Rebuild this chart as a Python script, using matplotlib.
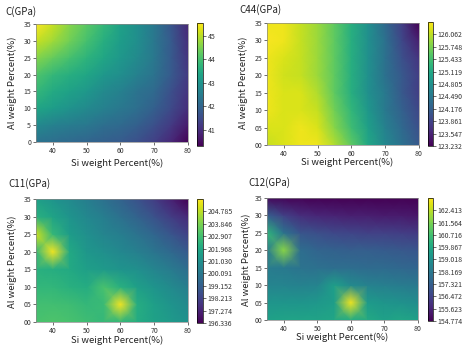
import numpy as np
import matplotlib
matplotlib.use("Agg")
import matplotlib.pyplot as plt

plt.rcParams['font.family'] = ['Noto Sans CJK KR', 'DejaVu Sans']

# grid (Si weight %, Al weight %)
si_pct = [35, 40, 45, 50, 55, 60, 65, 70, 75, 80]
al_pct = [0, 5, 10, 15, 20, 25, 30, 35]

# rows: Al = 0 ... 35, columns: Si = 35 ... 80
c_vals = [
    [42.3, 42.2, 42.1, 42.0, 41.9, 41.8, 41.6, 41.3, 40.9, 40.35],
    [42.8, 42.6, 42.5, 42.4, 42.2, 42.1, 41.9, 41.6, 41.2, 40.7],
    [43.4, 43.2, 43.0, 42.8, 42.6, 42.4, 42.2, 41.9, 41.5, 41.0],
    [43.8, 43.5, 43.3, 43.1, 42.8, 42.6, 42.3, 42.1, 41.6, 41.1],
    [44.1, 43.8, 43.6, 43.4, 43.1, 42.9, 42.6, 42.3, 41.8, 41.2],
    [44.6, 44.3, 44.0, 43.7, 43.4, 43.1, 42.8, 42.4, 41.8, 41.1],
    [45.1, 44.8, 44.4, 44.0, 43.6, 43.2, 42.9, 42.4, 41.8, 41.0],
    [45.5, 45.1, 44.6, 44.2, 43.8, 43.3, 42.9, 42.4, 41.7, 40.9],
]
c44_vals = [
    [126.1, 126.2, 126.3, 126.3, 126.0, 125.6, 125.1, 124.7, 124.4, 124.1],
    [126.2, 126.2, 126.3, 126.2, 125.8, 125.4, 125.0, 124.6, 124.3, 124.0],
    [126.3, 126.2, 126.2, 126.1, 125.7, 125.3, 124.9, 124.5, 124.2, 123.9],
    [126.3, 126.2, 126.2, 126.0, 125.6, 125.2, 124.8, 124.5, 124.1, 123.8],
    [126.3, 126.15, 126.1, 125.9, 125.6, 125.2, 124.8, 124.4, 124.1, 123.8],
    [126.3, 126.2, 126.1, 125.9, 125.6, 125.2, 124.8, 124.4, 124.0, 123.7],
    [126.35, 126.3, 126.1, 125.9, 125.6, 125.2, 124.8, 124.4, 123.9, 123.5],
    [126.3, 126.3, 126.1, 125.9, 125.6, 125.2, 124.8, 124.3, 123.8, 123.232],
]
c11_vals = [
    [203.0, 203.1, 203.0, 202.8, 202.6, 202.5, 202.1, 201.7, 201.4, 201.1],
    [202.9, 202.9, 202.8, 202.6, 202.7, 205.6, 202.2, 201.6, 201.2, 200.8],
    [202.5, 202.5, 202.3, 202.1, 203.0, 202.3, 201.6, 201.2, 200.8, 200.3],
    [202.3, 202.2, 202.0, 201.6, 201.4, 201.2, 201.0, 200.6, 200.2, 199.7],
    [202.6, 205.6, 202.0, 201.3, 201.0, 200.7, 200.4, 200.0, 199.5, 199.0],
    [205.0, 202.6, 201.5, 201.0, 200.6, 200.3, 199.9, 199.4, 198.8, 198.2],
    [202.3, 201.8, 201.2, 200.7, 200.3, 199.8, 199.3, 198.7, 198.0, 197.4],
    [201.6, 201.2, 200.8, 200.3, 199.8, 199.3, 198.7, 198.0, 197.2, 196.336],
]
c12_vals = [
    [159.6, 159.7, 159.7, 159.7, 159.8, 160.0, 159.9, 159.6, 159.8, 159.6],
    [159.2, 159.2, 159.2, 159.3, 159.5, 163.1, 159.4, 159.2, 159.1, 158.9],
    [158.6, 158.6, 158.5, 158.6, 159.5, 158.8, 158.5, 158.4, 158.3, 158.2],
    [158.3, 158.2, 158.0, 157.9, 157.8, 157.8, 157.7, 157.7, 157.6, 157.5],
    [158.3, 161.8, 157.8, 157.5, 157.4, 157.3, 157.3, 157.2, 157.1, 157.0],
    [160.3, 158.0, 157.0, 156.8, 156.6, 156.5, 156.4, 156.4, 156.3, 156.2],
    [157.3, 156.4, 155.9, 155.7, 155.6, 155.5, 155.5, 155.4, 155.4, 155.3],
    [155.0, 154.9, 154.85, 154.8, 154.8, 154.8, 154.8, 154.8, 154.8, 154.774],
]

c_ticks = [41, 42, 43, 44, 45]
c44_ticks = [123.232, 123.547, 123.861, 124.176, 124.490, 124.805, 125.119, 125.433, 125.748, 126.062]
c11_ticks = [196.336, 197.274, 198.213, 199.152, 200.091, 201.030, 201.968, 202.907, 203.846, 204.785]
c12_ticks = [154.774, 155.623, 156.472, 157.321, 158.169, 159.018, 159.867, 160.716, 161.564, 162.413]

W, H = 472, 356


def px_rect(l, t, r, b):
    return [l / W, 1 - b / H, (r - l) / W, (b - t) / H]


def panel(fig, title, vals, ticks, vmin, vmax, ax_box, cb_box, title_xy,
          xlab_xy, ylab_xy, ytick_fmt, cb_fmt):
    ax = fig.add_axes(px_rect(*ax_box))
    X, Y = np.meshgrid(si_pct, al_pct)
    mesh = ax.pcolormesh(X, Y, np.array(vals), shading='gouraud', cmap='viridis',
                         vmin=vmin, vmax=vmax)
    ax.set_xlim(35, 80)
    ax.set_ylim(0, 35)
    ax.set_xticks([40, 50, 60, 70, 80])
    yt = [0, 5, 10, 15, 20, 25, 30, 35]
    ax.set_yticks(yt)
    ax.set_yticklabels([ytick_fmt.format(v) for v in yt])
    ax.tick_params(labelsize=5, length=2, width=0.5, pad=1.5, colors='#333333')
    for s in ax.spines.values():
        s.set_linewidth(0.5)
        s.set_color('#888888')

    cax = fig.add_axes(px_rect(*cb_box))
    cb = fig.colorbar(mesh, cax=cax, ticks=ticks)
    cb.ax.set_yticklabels([cb_fmt.format(v) for v in ticks])
    cb.ax.tick_params(labelsize=5, length=2, width=0.5, pad=1.5, colors='#333333')
    cb.outline.set_linewidth(0.5)

    fig.text(title_xy[0] / W, 1 - title_xy[1] / H, title, fontsize=7,
             ha='left', va='center', color='#222222')
    fig.text(xlab_xy[0] / W, 1 - xlab_xy[1] / H, 'Si weight Percent(%)', fontsize=6.8,
             ha='center', va='center', color='#222222')
    fig.text(ylab_xy[0] / W, 1 - ylab_xy[1] / H, 'Al weight Percent(%)', fontsize=6.8,
             ha='center', va='center', rotation=90, color='#222222')


fig = plt.figure(figsize=(W / 100, H / 100), dpi=100)

panel(fig, 'C(GPa)', c_vals, c_ticks, 40.32, 45.54,
      (36, 24, 188, 142), (197, 23, 203, 146), (5, 12),
      (117, 163), (12, 83), '{:d}', '{:d}')
panel(fig, 'C44(GPa)', c44_vals, c44_ticks, 123.232, 126.376,
      (267, 23, 419, 145), (428, 22, 433, 146), (239, 10),
      (347, 162), (243, 83), '{:02d}', '{:.3f}')
panel(fig, 'C11(GPa)', c11_vals, c11_ticks, 196.336, 205.724,
      (36, 199, 188, 322), (197, 199, 203, 323), (8, 184),
      (117, 340), (12, 262), '{:02d}', '{:.3f}')
panel(fig, 'C12(GPa)', c12_vals, c12_ticks, 154.774, 163.262,
      (267, 198, 418, 320), (428, 198, 433, 321), (248, 183),
      (342, 337), (246, 260), '{:02d}', '{:.3f}')

fig.savefig('out.png', dpi=100)
